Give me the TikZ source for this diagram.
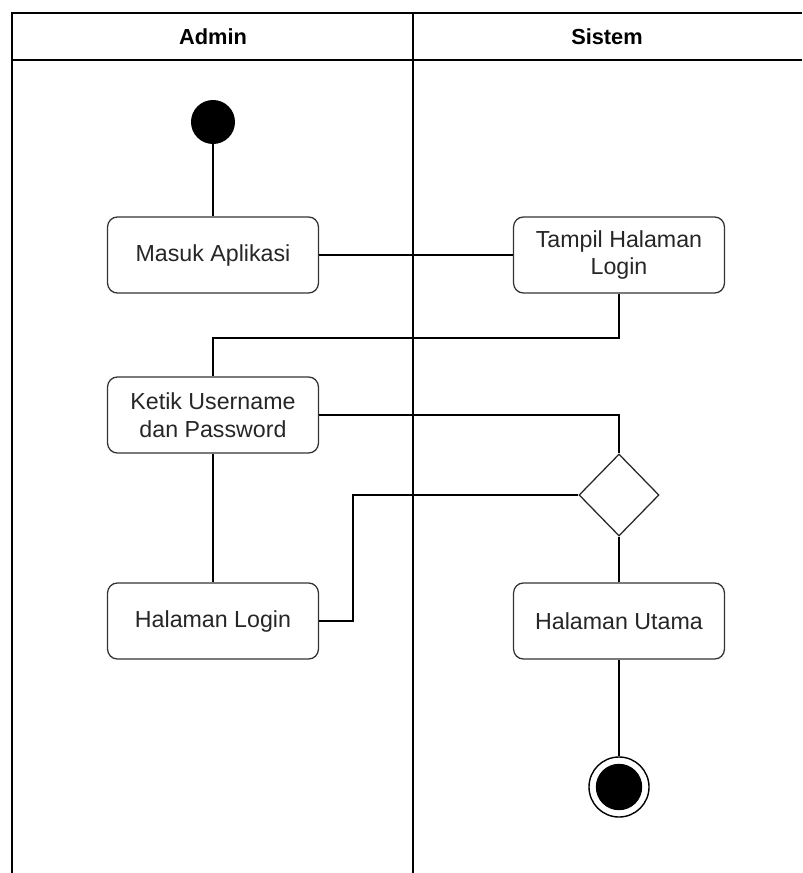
\documentclass[tikz,border=0pt]{standalone}
\usepackage{fontspec}
\setmainfont{Liberation Sans}
\usepackage{xcolor}
\usetikzlibrary{calc, shapes.geometric, positioning}

\tikzset{
    aktivitas/.style={draw=black!80, line width=0.9pt, rounded corners=7pt,
        minimum width=5.27cm, minimum height=1.9cm, inner sep=0pt,
        align=center, font=\fontsize{16.5}{19.5}\selectfont, text=black!85},
    keputusan/.style={diamond, draw=black!85, line width=0.9pt, inner sep=0pt,
        minimum width=2cm, minimum height=2.05cm},
    mulai/.style={circle, fill=black, inner sep=0pt, minimum size=1.1cm},
    selesai/.style={circle, draw=black, line width=1pt, inner sep=0pt, minimum size=1.5cm},
    alur/.style={line width=0.9pt}
}

\begin{document}
\begin{tikzpicture}[x=0.025cm, y=-0.025cm]
    \useasboundingbox (0,0) rectangle (802,873);

    % 1. Swimlane
    \draw[line width=0.9pt] (12,873) -- (12,13) -- (802,13);
    \draw[line width=0.9pt] (12,60) -- (802,60);
    \draw[line width=0.9pt] (413,13) -- (413,873);
    \node[font=\fontsize{15.5}{18}\selectfont\bfseries] (admin) at (213,37) {Admin};
    \node[font=\fontsize{15.5}{18}\selectfont\bfseries] (sistem) at (607,37) {Sistem};

    % 2. Node aktivitas
    \node[mulai] (awal) at (213,122) {};
    \node[aktivitas] (masuk) at (213,255) {Masuk Aplikasi};
    \node[aktivitas] (tampil) at (619,255) {Tampil Halaman\\Login};
    \node[aktivitas] (ketik) at (213,415) {Ketik Username\\dan Password};
    \node[keputusan] (cek) at (619,495) {};
    \node[aktivitas] (login) at (213,621) {Halaman Login};
    \node[aktivitas] (utama) at (619,621) {Halaman Utama};
    \node[selesai] (akhir) at (619,787) {};
    \fill (akhir.center) circle (0.58cm);

    % 3. Alur
    \draw[alur] (awal) -- (masuk);
    \draw[alur] (masuk) -- (tampil);
    \draw[alur] (tampil.south) |- (619,338) -| (ketik.north);
    \draw[alur] (ketik.east) -| (cek.north);
    \draw[alur] (ketik) -- (login);
    \draw[alur] (cek.west) -| (353,621) -- (login.east);
    \draw[alur] (cek) -- (utama);
    \draw[alur] (utama) -- (akhir);
\end{tikzpicture}
\end{document}
